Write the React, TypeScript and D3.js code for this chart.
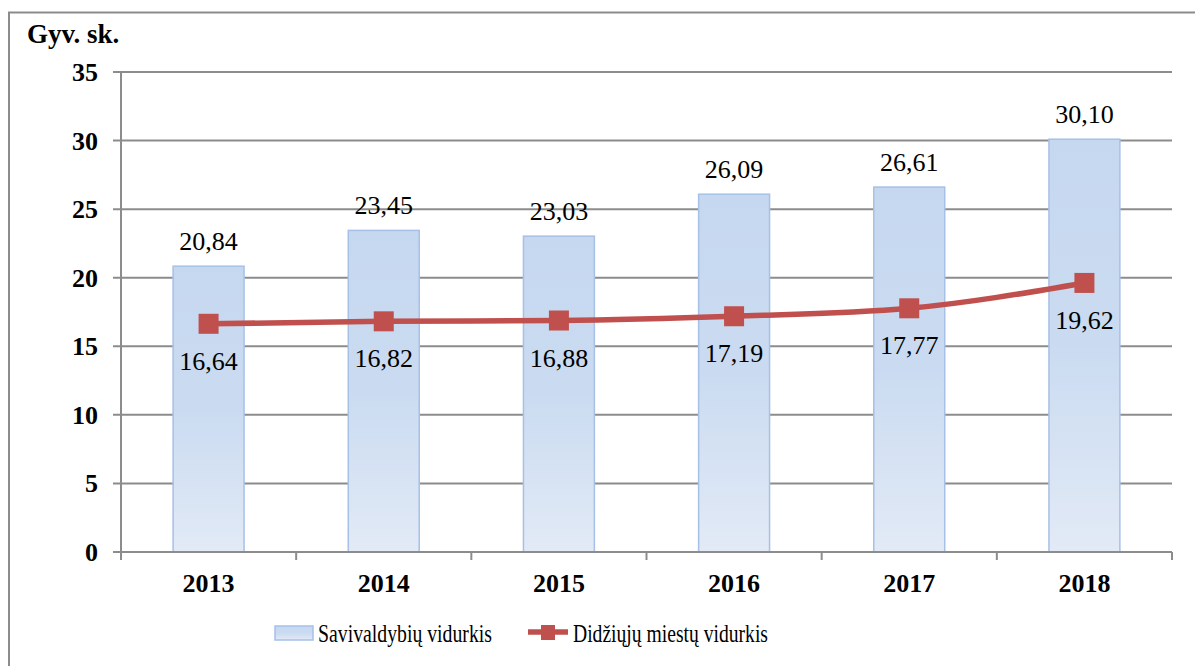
import * as d3 from "d3";
import React from "react";

const years = ["2013", "2014", "2015", "2016", "2017", "2018"];
const municipalAvg = [20.84, 23.45, 23.03, 26.09, 26.61, 30.1];
const bigCityAvg = [16.64, 16.82, 16.88, 17.19, 17.77, 19.62];
const yTicks = [0, 5, 10, 15, 20, 25, 30, 35];

const W = 1195;
const H = 666;
const plot = { left: 121, right: 1172, top: 72, bottom: 552 };
const ts = { fontFamily: "Liberation Serif" };
const gridColor = "#8c8c8c";
const red = "#c0504d";

const fmt = (v: number) => v.toFixed(2).replace(".", ",");

const App = () => {
	const xScale = d3
		.scaleBand()
		.domain(years)
		.range([plot.left, plot.right])
		.paddingInner(0.595)
		.paddingOuter(0.2975);
	const band = d3.scaleBand().domain(years).range([plot.left, plot.right]);
	const yScale = d3.scaleLinear().domain([0, 35]).range([plot.bottom, plot.top]);
	const cx = (y: string) => (band(y) as number) + band.bandwidth() / 2;

	const line = d3
		.line<number>()
		.x((_, i) => cx(years[i]))
		.y((d) => yScale(d))
		.curve(d3.curveMonotoneX);

	return (
		<svg width={W} height={H} style={{ position: "absolute", left: 0, top: 0, background: "white" }}>
			<defs>
				<linearGradient id="barFill" x1="0" y1="0" x2="0" y2="1">
					<stop offset="0%" stopColor="#c6d8f0" />
					<stop offset="50%" stopColor="#cadbf1" />
					<stop offset="100%" stopColor="#e2eaf6" />
				</linearGradient>
			</defs>
			<rect x={9} y={12.5} width={1200} height={700} fill="white" stroke={gridColor} strokeWidth={2} />

			<text x={27} y={43} fontSize={27} fontWeight="bold" style={ts}>
				Gyv. sk.
			</text>

			{/* gridlines + y ticks */}
			{yTicks.map((t) => (
				<g key={t}>
					<line
						x1={plot.left - 8}
						x2={plot.right}
						y1={yScale(t)}
						y2={yScale(t)}
						stroke={gridColor}
						strokeWidth={2}
					/>
					<text x={98} y={yScale(t) + 9} fontSize={26} fontWeight="bold" textAnchor="end" style={ts}>
						{t}
					</text>
				</g>
			))}
			<line x1={plot.left} x2={plot.left} y1={plot.top} y2={plot.bottom} stroke={gridColor} strokeWidth={2} />
			{years.map((y) => (
				<line
					key={"tk" + y}
					x1={band(y) as number}
					x2={band(y) as number}
					y1={plot.bottom}
					y2={plot.bottom + 8}
					stroke={gridColor}
					strokeWidth={2}
				/>
			))}
			<line x1={plot.right} x2={plot.right} y1={plot.bottom} y2={plot.bottom + 8} stroke={gridColor} strokeWidth={2} />

			{/* bars */}
			{years.map((y, i) => (
				<g key={"b" + y}>
					<rect
						x={xScale(y)}
						y={yScale(municipalAvg[i])}
						width={xScale.bandwidth()}
						height={plot.bottom - yScale(municipalAvg[i])}
						fill="url(#barFill)"
						stroke="#a7c0e6"
						strokeWidth={1.5}
					/>
					<text x={cx(y)} y={yScale(municipalAvg[i]) - 16} fontSize={26} textAnchor="middle" style={ts}>
						{fmt(municipalAvg[i])}
					</text>
				</g>
			))}
			<line x1={plot.left} x2={plot.right} y1={plot.bottom} y2={plot.bottom} stroke={gridColor} strokeWidth={2} />

			{/* line series */}
			<path d={line(bigCityAvg) || ""} fill="none" stroke={red} strokeWidth={5.5} />
			{years.map((y, i) => (
				<g key={"m" + y}>
					<rect x={cx(y) - 10} y={yScale(bigCityAvg[i]) - 10} width={20} height={20} fill={red} />
					<text x={cx(y)} y={yScale(bigCityAvg[i]) + 46} fontSize={26} textAnchor="middle" style={ts}>
						{fmt(bigCityAvg[i])}
					</text>
				</g>
			))}

			{/* category labels */}
			{years.map((y) => (
				<text key={"c" + y} x={cx(y)} y={592} fontSize={26} fontWeight="bold" textAnchor="middle" style={ts}>
					{y}
				</text>
			))}

			{/* legend */}
			<rect x={275} y={626} width={38} height={14} fill="url(#barFill)" stroke="#a7c0e6" strokeWidth={1.5} />
			<text x={318} y={642} fontSize={25} textLength={174} lengthAdjust="spacingAndGlyphs" style={ts}>
				Savivaldybių vidurkis
			</text>
			<line x1={528} x2={568} y1={632} y2={632} stroke={red} strokeWidth={5.5} />
			<rect x={541} y={625} width={14} height={15} fill={red} />
			<text x={573} y={642} fontSize={25} textLength={195} lengthAdjust="spacingAndGlyphs" style={ts}>
				Didžiųjų miestų vidurkis
			</text>
		</svg>
	);
};

export default App;
